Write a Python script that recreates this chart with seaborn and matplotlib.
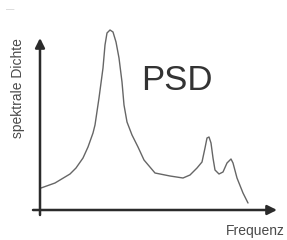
import matplotlib
matplotlib.use("Agg")
import matplotlib.pyplot as plt
import seaborn as sns
import pandas as pd

# Read-off values (frequency, spectral density) in arbitrary units
freq = [1, 15, 30, 36, 43, 48, 53, 55, 59, 63, 65, 67, 70, 73, 76, 79, 82, 84,
        87, 92, 98, 104, 115, 130, 143, 150, 157, 162, 165, 167, 169, 171, 173,
        175, 179, 183, 187, 191, 193, 197, 203, 208]
dens = [22, 27, 36, 42, 52, 63, 77, 85, 112, 142, 165, 177, 180, 178, 168, 152,
        128, 105, 88, 75, 63, 50, 37, 34, 32, 35, 42, 48, 62, 72, 73, 67, 52,
        40, 36, 38, 47, 51, 47, 32, 17, 7]

title = "PSD"
xlabel = "Frequenz"
ylabel = "spektrale Dichte"

sns.set_theme(style="white")
plt.rcParams['font.family'] = ['Liberation Sans', 'DejaVu Sans']

df = pd.DataFrame({"Frequenz": freq, "Dichte": dens})

fig = plt.figure(figsize=(2.87, 2.40), dpi=100)
ax = fig.add_axes([0, 0, 1, 1])
sns.lineplot(data=df, x="Frequenz", y="Dichte", ax=ax, color="#666666",
             linewidth=1.0, sort=False)

ax.set_xlim(-40, 247)
ax.set_ylim(-30, 210)
ax.axis("off")

axis_col = "#2b2b2b"
# x axis arrow
ax.annotate("", xy=(237, 0), xytext=(-7, 0),
            arrowprops=dict(arrowstyle="-|>", color=axis_col, lw=1.8,
                            mutation_scale=14, shrinkA=0, shrinkB=0))
# y axis arrow
ax.annotate("", xy=(0, 172), xytext=(0, -5),
            arrowprops=dict(arrowstyle="-|>", color=axis_col, lw=1.8,
                            mutation_scale=14, shrinkA=0, shrinkB=0))

ax.text(137, 130, title, fontsize=25, color="#333333", ha="center", va="center")
ax.text(-22, 122, ylabel, fontsize=10, color="#4a4a4a", rotation=90,
        ha="center", va="center")
ax.text(215, -21, xlabel, fontsize=10, color="#4a4a4a", ha="center", va="center")
ax.text(-29.5, 200, "\u2014", fontsize=6, color="#bbbbbb", ha="center", va="center")

fig.savefig("out.png", dpi=100)
